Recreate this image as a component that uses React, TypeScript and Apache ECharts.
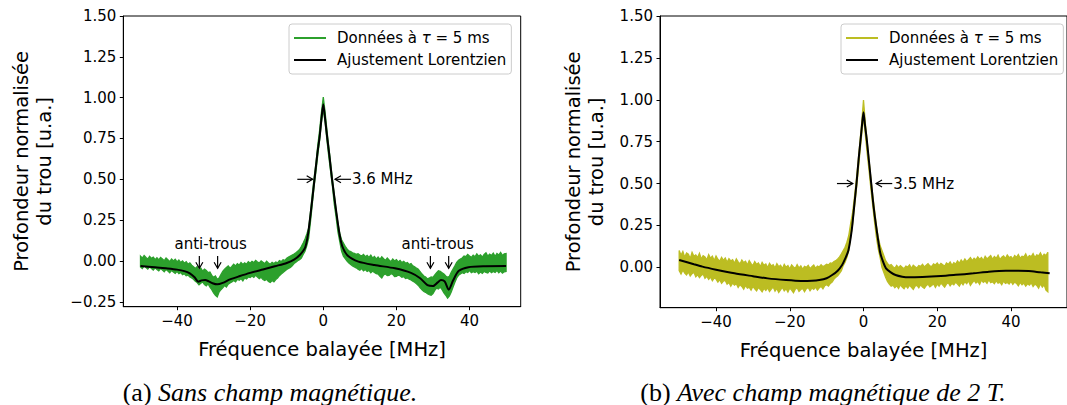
import React, { useEffect, useRef } from "react";
import * as echarts from "echarts";

const FONT = "DejaVu Sans";
const GREEN = "#2ca02c";
const OLIVE = "#bcbd22";

// Frequencies (MHz) at which the measured band (noise envelope) is read, every 0.5 MHz
const bandX = [
  -50, -49.5, -49, -48.5, -48, -47.5, -47, -46.5, -46, -45.5,
  -45, -44.5, -44, -43.5, -43, -42.5, -42, -41.5, -41, -40.5,
  -40, -39.5, -39, -38.5, -38, -37.5, -37, -36.5, -36, -35.5,
  -35, -34.5, -34, -33.5, -33, -32.5, -32, -31.5, -31, -30.5,
  -30, -29.5, -29, -28.5, -28, -27.5, -27, -26.5, -26, -25.5,
  -25, -24.5, -24, -23.5, -23, -22.5, -22, -21.5, -21, -20.5,
  -20, -19.5, -19, -18.5, -18, -17.5, -17, -16.5, -16, -15.5,
  -15, -14.5, -14, -13.5, -13, -12.5, -12, -11.5, -11, -10.5,
  -10, -9.5, -9, -8.5, -8, -7.5, -7, -6.5, -6, -5.5,
  -5, -4.5, -4, -3.5, -3, -2.5, -2, -1.5, -1, -0.5,
  0,
  0.5, 1, 1.5, 2, 2.5, 3, 3.5, 4, 4.5, 5,
  5.5, 6, 6.5, 7, 7.5, 8, 8.5, 9, 9.5, 10,
  10.5, 11, 11.5, 12, 12.5, 13, 13.5, 14, 14.5, 15,
  15.5, 16, 16.5, 17, 17.5, 18, 18.5, 19, 19.5, 20,
  20.5, 21, 21.5, 22, 22.5, 23, 23.5, 24, 24.5, 25,
  25.5, 26, 26.5, 27, 27.5, 28, 28.5, 29, 29.5, 30,
  30.5, 31, 31.5, 32, 32.5, 33, 33.5, 34, 34.5, 35,
  35.5, 36, 36.5, 37, 37.5, 38, 38.5, 39, 39.5, 40,
  40.5, 41, 41.5, 42, 42.5, 43, 43.5, 44, 44.5, 45,
  45.5, 46, 46.5, 47, 47.5, 48, 48.5, 49, 49.5, 50,
];

// (a) Sans champ magnétique — measured data band (upper / lower envelope)
const dataAHigh = [
  0.030, 0.018, 0.034, 0.022, 0.012, 0.028, 0.016, 0.024, 0.008, 0.020,
  0.006, 0.022, 0.012, 0.002, 0.018, 0.008, -0.004, 0.012, 0.000, 0.010,
  -0.006, 0.006, -0.010, 0.000, -0.014, -0.004, -0.020, -0.012, -0.026, -0.036,
  -0.046, -0.034, -0.058, -0.044, -0.062, -0.050, -0.058, -0.072, -0.068, -0.088,
  -0.100, -0.092, -0.112, -0.104, -0.084, -0.064, -0.050, -0.040, -0.030, -0.044,
  -0.034, -0.020, -0.030, -0.016, -0.026, -0.010, -0.022, -0.012, -0.020, -0.004,
  -0.014, -0.002, -0.010, 0.004, -0.006, -0.012, 0.000, -0.008, -0.016, -0.002,
  -0.012, -0.020, -0.008, -0.016, -0.006, -0.012, 0.002, -0.004, 0.008, 0.004,
  0.016, 0.024, 0.030, 0.036, 0.042, 0.050, 0.060, 0.070, 0.088, 0.110,
  0.135, 0.165, 0.200, 0.300, 0.410, 0.510, 0.600, 0.710, 0.800, 0.910,
  1.003,
  0.910, 0.800, 0.700, 0.600, 0.500, 0.410, 0.310, 0.230, 0.170, 0.130,
  0.110, 0.090, 0.074, 0.062, 0.058, 0.050, 0.046, 0.040, 0.044, 0.036,
  0.030, 0.040, 0.026, 0.034, 0.022, 0.036, 0.018, 0.028, 0.012, 0.024,
  0.010, 0.026, 0.014, 0.004, 0.018, 0.006, -0.004, 0.012, 0.000, 0.008,
  -0.006, 0.004, -0.010, -0.002, -0.014, -0.010, -0.022, -0.016, -0.030, -0.036,
  -0.044, -0.050, -0.066, -0.080, -0.092, -0.098, -0.110, -0.104, -0.098, -0.100,
  -0.086, -0.072, -0.060, -0.064, -0.072, -0.080, -0.092, -0.100, -0.094, -0.070,
  -0.050, -0.030, -0.008, 0.004, 0.012, 0.018, 0.030, 0.026, 0.040, 0.030,
  0.022, 0.036, 0.026, 0.044, 0.030, 0.038, 0.024, 0.040, 0.050, 0.030,
  0.042, 0.034, 0.048, 0.028, 0.046, 0.036, 0.052, 0.034, 0.044, 0.046,
];
const dataALow = [
  -0.036, -0.046, -0.030, -0.040, -0.050, -0.036, -0.046, -0.056, -0.042, -0.052,
  -0.060, -0.046, -0.056, -0.066, -0.052, -0.062, -0.072, -0.058, -0.068, -0.076,
  -0.064, -0.078, -0.070, -0.084, -0.078, -0.090, -0.086, -0.098, -0.104, -0.112,
  -0.124, -0.132, -0.146, -0.136, -0.128, -0.144, -0.152, -0.140, -0.160, -0.176,
  -0.196, -0.210, -0.220, -0.190, -0.176, -0.164, -0.150, -0.160, -0.142, -0.134,
  -0.128, -0.120, -0.128, -0.112, -0.118, -0.108, -0.122, -0.104, -0.110, -0.098,
  -0.102, -0.092, -0.100, -0.088, -0.098, -0.108, -0.100, -0.114, -0.120, -0.112,
  -0.126, -0.132, -0.120, -0.128, -0.114, -0.104, -0.090, -0.080, -0.070, -0.062,
  -0.052, -0.046, -0.040, -0.030, -0.016, -0.008, 0.002, 0.008, 0.018, 0.040,
  0.060, 0.095, 0.140, 0.240, 0.350, 0.460, 0.550, 0.650, 0.740, 0.850,
  0.930,
  0.850, 0.740, 0.640, 0.550, 0.460, 0.350, 0.270, 0.180, 0.120, 0.060,
  0.030, 0.015, 0.000, -0.012, -0.022, -0.030, -0.036, -0.042, -0.050, -0.056,
  -0.046, -0.060, -0.052, -0.064, -0.058, -0.072, -0.062, -0.070, -0.078, -0.080,
  -0.094, -0.104, -0.086, -0.080, -0.090, -0.088, -0.078, -0.082, -0.096, -0.094,
  -0.086, -0.090, -0.100, -0.096, -0.108, -0.104, -0.112, -0.116, -0.124, -0.130,
  -0.140, -0.150, -0.164, -0.176, -0.186, -0.192, -0.200, -0.206, -0.210, -0.200,
  -0.180, -0.166, -0.172, -0.160, -0.176, -0.196, -0.210, -0.228, -0.214, -0.190,
  -0.160, -0.130, -0.104, -0.088, -0.080, -0.072, -0.076, -0.066, -0.070, -0.058,
  -0.072, -0.066, -0.070, -0.062, -0.078, -0.068, -0.076, -0.064, -0.070, -0.074,
  -0.060, -0.072, -0.064, -0.070, -0.058, -0.072, -0.062, -0.074, -0.066, -0.064,
];
// (a) Lorentzian fit
const fitAX = [
  -50, -46, -43, -40, -38, -36.5, -35.2, -34.2, -33.3, -32.3, -31.3, -30.3, -29, -27.5, -25.5, -23, -20, -16.5,
  -13, -10, -8, -6.5, -5, -4.2, -3.4, -2.4, -1.6, -1, -0.5, 0, 0.5, 1.1, 1.7, 2.4, 3.5, 4.4, 5.2, 6.8, 9.6, 14,
  19.6, 24, 26.5, 28.5, 30, 31.3, 32.2, 33.2, 34.3, 35.5, 37, 39.7, 44.3, 50,
];
const fitAY = [
  -0.031, -0.038, -0.045, -0.053, -0.062, -0.076, -0.1, -0.127, -0.119, -0.116, -0.125, -0.136, -0.143, -0.134,
  -0.113, -0.094, -0.073, -0.052, -0.031, -0.012, 0.008, 0.035, 0.08, 0.16, 0.3, 0.5, 0.66, 0.76, 0.87, 0.96,
  0.87, 0.75, 0.64, 0.5, 0.31, 0.17, 0.09, 0.03, -0.004, -0.025, -0.045, -0.073, -0.106, -0.148, -0.154, -0.131,
  -0.117, -0.125, -0.176, -0.12, -0.062, -0.038, -0.032, -0.031,
];

// (b) Avec champ magnétique de 2 T — measured data band
const dataBHigh = [
  0.100, 0.072, 0.094, 0.060, 0.086, 0.078, 0.052, 0.090, 0.066, 0.074,
  0.058, 0.084, 0.050, 0.070, 0.062, 0.044, 0.076, 0.054, 0.066, 0.040,
  0.068, 0.048, 0.036, 0.060, 0.042, 0.056, 0.030, 0.052, 0.038, 0.046,
  0.024, 0.050, 0.032, 0.020, 0.044, 0.028, 0.036, 0.014, 0.040, 0.022,
  0.010, 0.034, 0.018, 0.026, 0.004, 0.030, 0.012, 0.020, -0.002, 0.024,
  0.008, 0.016, -0.004, 0.022, 0.004, 0.012, -0.008, 0.018, 0.000, 0.010,
  -0.010, 0.014, 0.002, -0.006, 0.016, -0.004, 0.008, -0.012, 0.006, 0.000,
  0.012, -0.008, 0.004, 0.014, -0.006, 0.008, 0.002, 0.016, 0.004, 0.010,
  0.018, 0.014, 0.026, 0.024, 0.034, 0.040, 0.050, 0.062, 0.080, 0.100,
  0.120, 0.150, 0.190, 0.260, 0.320, 0.410, 0.510, 0.620, 0.740, 0.860,
  0.999,
  0.860, 0.750, 0.640, 0.530, 0.430, 0.340, 0.250, 0.180, 0.130, 0.100,
  0.070, 0.040, 0.024, 0.010, 0.016, 0.004, -0.006, 0.012, -0.002, 0.010,
  0.000, -0.008, 0.008, 0.002, 0.014, -0.006, 0.012, 0.004, -0.004, 0.010,
  0.006, 0.018, 0.002, 0.012, 0.022, 0.008, 0.004, 0.020, 0.014, 0.026,
  0.010, 0.024, 0.016, 0.006, 0.026, 0.018, 0.032, 0.012, 0.028, 0.020,
  0.038, 0.024, 0.044, 0.030, 0.050, 0.034, 0.046, 0.058, 0.040, 0.054,
  0.044, 0.062, 0.048, 0.058, 0.040, 0.066, 0.050, 0.060, 0.070, 0.048,
  0.064, 0.054, 0.072, 0.046, 0.060, 0.068, 0.052, 0.074, 0.058, 0.064,
  0.050, 0.070, 0.060, 0.076, 0.054, 0.066, 0.062, 0.080, 0.056, 0.070,
  0.064, 0.082, 0.058, 0.074, 0.068, 0.086, 0.062, 0.078, 0.070, 0.090,
];
const dataBLow = [
  -0.020, -0.040, -0.016, -0.034, -0.046, -0.028, -0.052, -0.038, -0.030, -0.056,
  -0.044, -0.062, -0.048, -0.040, -0.066, -0.054, -0.072, -0.058, -0.080, -0.064,
  -0.070, -0.088, -0.074, -0.096, -0.082, -0.078, -0.100, -0.090, -0.112, -0.094,
  -0.106, -0.098, -0.120, -0.104, -0.114, -0.130, -0.108, -0.124, -0.118, -0.136,
  -0.114, -0.128, -0.140, -0.120, -0.132, -0.146, -0.126, -0.138, -0.122, -0.144,
  -0.130, -0.118, -0.142, -0.126, -0.150, -0.134, -0.120, -0.140, -0.128, -0.148,
  -0.124, -0.136, -0.152, -0.130, -0.122, -0.144, -0.132, -0.126, -0.146, -0.128,
  -0.120, -0.140, -0.124, -0.132, -0.118, -0.136, -0.122, -0.114, -0.128, -0.110,
  -0.104, -0.112, -0.096, -0.088, -0.070, -0.060, -0.050, -0.036, -0.020, 0.010,
  0.030, 0.060, 0.100, 0.180, 0.250, 0.350, 0.450, 0.560, 0.680, 0.790,
  0.900,
  0.790, 0.680, 0.580, 0.470, 0.370, 0.270, 0.180, 0.110, 0.060, 0.000,
  -0.030, -0.060, -0.084, -0.100, -0.112, -0.106, -0.122, -0.110, -0.126, -0.104,
  -0.118, -0.128, -0.110, -0.124, -0.106, -0.120, -0.132, -0.112, -0.108, -0.122,
  -0.104, -0.118, -0.126, -0.110, -0.100, -0.116, -0.108, -0.098, -0.120, -0.100,
  -0.112, -0.094, -0.106, -0.118, -0.100, -0.092, -0.110, -0.096, -0.104, -0.088,
  -0.100, -0.112, -0.090, -0.104, -0.086, -0.098, -0.080, -0.108, -0.092, -0.078,
  -0.094, -0.084, -0.102, -0.076, -0.090, -0.082, -0.096, -0.074, -0.092, -0.086,
  -0.098, -0.080, -0.094, -0.088, -0.104, -0.082, -0.096, -0.090, -0.100, -0.084,
  -0.102, -0.088, -0.096, -0.110, -0.090, -0.104, -0.094, -0.112, -0.098, -0.106,
  -0.092, -0.114, -0.100, -0.108, -0.124, -0.098, -0.118, -0.104, -0.136, -0.146,
];
// (b) Lorentzian fit
const fitBX = [
  -50, -46, -43.7, -40, -35, -30, -26, -21, -17, -14, -12, -10, -8.5, -7, -5.8, -5, -4.1, -3.2, -2.5, -1.9, -1.3,
  -0.8, -0.4, 0, 0.4, 0.9, 1.5, 2.1, 2.7, 3.4, 4.5, 5.2, 6.1, 7.4, 8.7, 10.5, 12.2, 16, 21, 25, 29.8, 34, 38.6,
  42, 44.8, 48, 50.5,
];
const fitBY = [
  0.044, 0.018, 0.004, -0.014, -0.036, -0.053, -0.066, -0.076, -0.081, -0.08, -0.076, -0.065, -0.046, -0.02,
  0.014, 0.05, 0.1, 0.22, 0.37, 0.5, 0.65, 0.76, 0.85, 0.925, 0.85, 0.76, 0.63, 0.5, 0.37, 0.25, 0.09, 0.04,
  -0.006, -0.03, -0.046, -0.056, -0.06, -0.058, -0.052, -0.045, -0.036, -0.026, -0.02, -0.02, -0.022, -0.03,
  -0.036,
];

// Ticks
const xTicks = [-40, -20, 0, 20, 40];
const yTicksA = [-0.25, 0, 0.25, 0.5, 0.75, 1, 1.25, 1.5];
const yTicksB = [0, 0.25, 0.5, 0.75, 1, 1.25, 1.5];

// Texts
const legendNames = ["Données à τ = 5 ms", "Ajustement Lorentzien"];
const xAxisTitle = "Fréquence balayée [MHz]";
const yAxisTitle = "Profondeur normalisée\ndu trou [u.a.]";
const captionA = ["(a)", "Sans champ magnétique."];
const captionB = ["(b)", "Avec champ magnétique de 2 T."];

// Annotations (data coordinates): arrows [tail, tip] and labels
const arrowsA = [
  [[-7.1, 0.5], [-2.9, 0.5]],
  [[7.6, 0.5], [3.2, 0.5]],
  [[-33.9, 0.031], [-33.9, -0.045]],
  [[-28.9, 0.031], [-28.9, -0.045]],
  [[29.3, 0.031], [29.3, -0.045]],
  [[34.3, 0.031], [34.3, -0.045]],
];
const labelsA = [
  { text: "3.6 MHz", at: [7.85, 0.5], align: "left" },
  { text: "anti-trous", at: [-30.8, 0.102], align: "center" },
  { text: "anti-trous", at: [31.3, 0.102], align: "center" },
];
const arrowsB = [
  [[-7.2, 0.5], [-2.9, 0.5]],
  [[7.8, 0.5], [3.4, 0.5]],
];
const labelsB = [{ text: "3.5 MHz", at: [8.1, 0.5], align: "left" }];

const minus = (s: string) => s.replace("-", "\u2212");
const fmtY = (v: number) => minus(v.toFixed(2));
const fmtX = (v: number) => minus(String(Math.round(v)));

function bandSeries(gridIndex: number, hi: number[], lo: number[], color: string, name: string) {
  return {
    type: "custom",
    name,
    xAxisIndex: gridIndex,
    yAxisIndex: gridIndex,
    itemStyle: { color },
    z: 2,
    encode: { x: 0, y: [1, 2] },
    data: bandX.map((x, i) => [x, lo[i], hi[i]]),
    renderItem: (params: any, api: any) => {
      if (params.dataIndex !== 0) return null;
      const pts: number[][] = [];
      for (let i = 0; i < bandX.length; i++) pts.push(api.coord([bandX[i], hi[i]]));
      for (let i = bandX.length - 1; i >= 0; i--) pts.push(api.coord([bandX[i], lo[i]]));
      return {
        type: "polygon",
        shape: { points: pts },
        style: { fill: color, stroke: color, lineWidth: 1.3, lineJoin: "miter" },
      };
    },
  };
}

function fitSeries(gridIndex: number, xs: number[], ys: number[]) {
  return {
    type: "line",
    name: legendNames[1],
    xAxisIndex: gridIndex,
    yAxisIndex: gridIndex,
    data: xs.map((x, i) => [x, ys[i]]),
    showSymbol: false,
    symbol: "none",
    smooth: 0.25,
    z: 3,
    itemStyle: { color: "#000" },
    lineStyle: { color: "#000", width: 2 },
  };
}

function xAxis(gridIndex: number, min: number, max: number) {
  return {
    type: "value",
    gridIndex,
    min,
    max,
    axisLine: { show: true, onZero: false, lineStyle: { color: "#000", width: 1 } },
    axisTick: { show: true, length: 3.5, customValues: xTicks, lineStyle: { color: "#000", width: 1 } },
    axisLabel: {
      customValues: xTicks,
      formatter: fmtX,
      fontFamily: FONT,
      fontSize: 15,
      color: "#000",
      margin: 7,
    },
    splitLine: { show: false },
    name: xAxisTitle,
    nameLocation: "middle",
    nameGap: 31,
    nameTextStyle: { fontFamily: FONT, fontSize: 19.5, color: "#000", lineHeight: 23 },
  };
}

function yAxis(gridIndex: number, min: number, ticks: number[], nameGap: number) {
  return {
    type: "value",
    gridIndex,
    min,
    max: 1.5,
    axisLine: { show: true, onZero: false, lineStyle: { color: "#000", width: 1 } },
    axisTick: { show: true, length: 3.5, customValues: ticks, lineStyle: { color: "#000", width: 1 } },
    axisLabel: {
      customValues: ticks,
      formatter: fmtY,
      fontFamily: FONT,
      fontSize: 15,
      color: "#000",
      margin: 7,
    },
    splitLine: { show: false },
    name: yAxisTitle,
    nameLocation: "middle",
    nameRotate: 90,
    nameGap,
    nameTextStyle: { fontFamily: FONT, fontSize: 19.5, color: "#000", lineHeight: 23 },
  };
}

function legend(left: number, dataColor: string) {
  return {
    left,
    top: 24,
    orient: "vertical",
    selectedMode: false,
    data: [
      { name: legendNames[0], icon: "rect", itemStyle: { color: dataColor } },
      { name: legendNames[1], icon: "rect", itemStyle: { color: "#000" } },
    ],
    itemWidth: 32,
    itemHeight: 2,
    itemGap: 4,
    padding: [5, 5, 5, 5],
    backgroundColor: "rgba(255,255,255,0.8)",
    borderColor: "#cccccc",
    borderWidth: 1,
    borderRadius: 3,
    formatter: (n: string) => n.replace("τ", "{t|τ}"),
    textStyle: {
      fontFamily: FONT,
      fontSize: 15,
      color: "#000",
      lineHeight: 18,
      padding: [0, 0, 0, 6],
      rich: { t: { fontFamily: FONT, fontSize: 15, fontStyle: "italic", color: "#000" } },
    },
  };
}

function arrowGraphics(tail: number[], tip: number[]) {
  const dx = tip[0] - tail[0];
  const dy = tip[1] - tail[1];
  const L = Math.hypot(dx, dy) || 1;
  const ux = dx / L;
  const uy = dy / L;
  const hl = 6;
  const hw = 3.5;
  const bx = tip[0] - ux * hl;
  const by = tip[1] - uy * hl;
  return [
    {
      type: "line",
      z: 20,
      silent: true,
      shape: { x1: tail[0], y1: tail[1], x2: tip[0], y2: tip[1] },
      style: { stroke: "#000", lineWidth: 1.2 },
    },
    {
      type: "polyline",
      z: 20,
      silent: true,
      shape: { points: [[bx - uy * hw, by + ux * hw], [tip[0], tip[1]], [bx + uy * hw, by - ux * hw]] },
      style: { stroke: "#000", lineWidth: 1.2, fill: null },
    },
  ];
}

export default function App() {
  const ref = useRef<HTMLDivElement>(null);

  useEffect(() => {
    if (!ref.current) return;
    const chart = echarts.init(ref.current, null, { renderer: "svg" });
    const option: any = {
      animation: false,
      backgroundColor: "#ffffff",
      grid: [
        { left: 123.3, top: 16, width: 397.4, height: 290.7, show: true, borderColor: "#000", borderWidth: 1, backgroundColor: "transparent" },
        { left: 660, top: 16, width: 417.6, height: 291.7, show: true, borderColor: "#000", borderWidth: 1, backgroundColor: "transparent" },
      ],
      xAxis: [xAxis(0, -54.7, 54.0), xAxis(1, -55.2, 55.2)],
      yAxis: [yAxis(0, -0.28, yTicksA, 67), yAxis(1, -0.241, yTicksB, 52)],
      legend: [legend(289, GREEN), legend(841, OLIVE)],
      series: [
        bandSeries(0, dataAHigh, dataALow, GREEN, legendNames[0]),
        fitSeries(0, fitAX, fitAY),
        bandSeries(1, dataBHigh, dataBLow, OLIVE, legendNames[0]),
        fitSeries(1, fitBX, fitBY),
      ],
    };
    chart.setOption(option);

    const graphics: any[] = [];
    const addAnn = (g: number, arrows: number[][][], labels: any[]) => {
      arrows.forEach(([a, b]) => {
        const p1 = chart.convertToPixel({ gridIndex: g } as any, a) as number[];
        const p2 = chart.convertToPixel({ gridIndex: g } as any, b) as number[];
        graphics.push(...arrowGraphics(p1, p2));
      });
      labels.forEach((l) => {
        const p = chart.convertToPixel({ gridIndex: g } as any, l.at) as number[];
        graphics.push({
          type: "text",
          z: 20,
          silent: true,
          x: p[0],
          y: p[1],
          style: {
            text: l.text,
            fill: "#000",
            fontFamily: FONT,
            fontSize: 15,
            align: l.align,
            verticalAlign: "middle",
          },
        });
      });
    };
    addAnn(0, arrowsA, labelsA);
    addAnn(1, arrowsB, labelsB);

    const caption = (cx: number, parts: string[]) => ({
      type: "text",
      z: 20,
      silent: true,
      x: cx,
      y: 392,
      style: {
        text: `{u|${parts[0]}} {i|${parts[1]}}`,
        align: "center",
        verticalAlign: "middle",
        fill: "#000",
        fontFamily: "Liberation Serif",
        fontSize: 26,
        rich: {
          u: { fontFamily: "Liberation Serif", fontSize: 26, fill: "#000" },
          i: { fontFamily: "Liberation Serif", fontSize: 26, fontStyle: "italic", fill: "#000" },
        },
      },
    });
    graphics.push(caption(270, captionA), caption(823, captionB));

    chart.setOption({ graphic: graphics });

    return () => chart.dispose();
  }, []);

  return (
    <div
      ref={ref}
      style={{ position: "fixed", left: 0, top: 0, width: 1067, height: 405, background: "#fff" }}
    />
  );
}
